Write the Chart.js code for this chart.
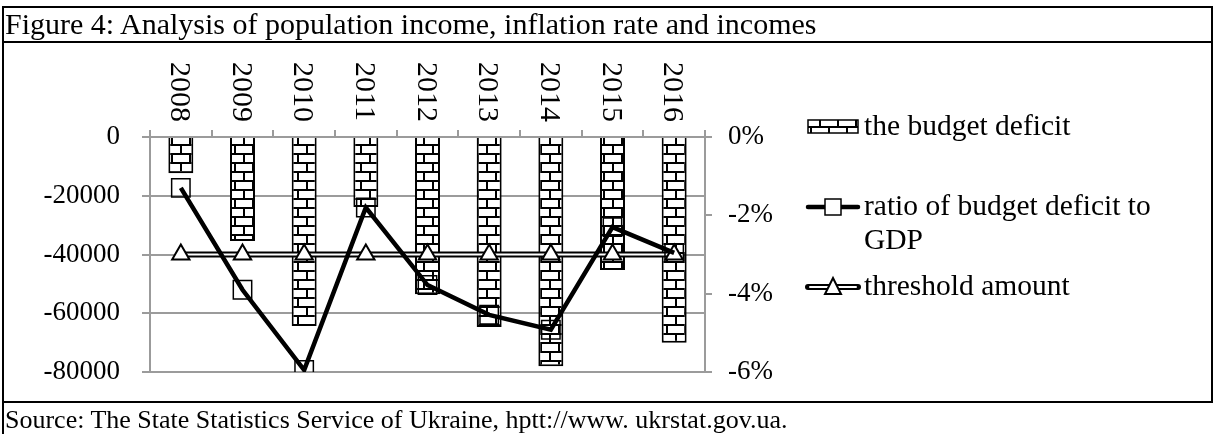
<!DOCTYPE html>
<html>
<head>
<meta charset="utf-8">
<script src="https://cdn.jsdelivr.net/npm/chart.js@4.4.1/dist/chart.umd.min.js"></script>
<style>
    body { margin: 0; background: #fff; }
    #wrap { position: relative; width: 1215px; height: 434px; overflow: hidden; }
    #grafico { position: absolute; left: 0; top: 0; }
    .linea { position: absolute; background: #000; }
    .texto { position: absolute; font-family: "Liberation Serif", "Times New Roman", serif; color: #000; white-space: nowrap; }
</style>
</head>
<body>
<div id="wrap">
    <canvas id="grafico" width="1215" height="434"></canvas>
    <!-- marco de la figura -->
    <div class="linea" style="left:2px;top:6px;width:1211px;height:2px;"></div>
    <div class="linea" style="left:2px;top:41px;width:1211px;height:2px;"></div>
    <div class="linea" style="left:2px;top:401px;width:1211px;height:2px;"></div>
    <div class="linea" style="left:2px;top:6px;width:2px;height:428px;"></div>
    <div class="linea" style="left:1211px;top:6px;width:2px;height:397px;"></div>
    <div class="texto" style="left:5px;top:7px;font-size:30px;line-height:34px;">Figure 4: Analysis of population income, inflation rate and incomes</div>
    <div class="texto" style="left:5px;top:405px;font-size:26px;line-height:29px;">Source: The State Statistics Service of Ukraine, hptt://www. ukrstat.gov.ua.</div>
</div>

<script>
// ===== Datos =====
const anios = ["2008", "2009", "2010", "2011", "2012", "2013", "2014", "2015", "2016"];
const deficit = [-12300, -35400, -64300, -23800, -53500, -64700, -78000, -45300, -70000];
const ratioPIB = [-1.3, -3.9, -5.95, -1.8, -3.78, -4.54, -4.92, -2.3, -2.96];
const umbral = [-3, -3, -3, -3, -3, -3, -3, -3, -3];

const ticksIzq = [0, -20000, -40000, -60000, -80000];
const ticksDer = [0, -2, -4, -6];

const FUENTE = '"Liberation Serif", "Times New Roman", serif';
const GRIS = "#9b9b9b";

// patrón de ladrillos (como el relleno de Excel)
function patronLadrillo() {
    const c = document.createElement("canvas");
    c.width = 18;
    c.height = 18;
    const g = c.getContext("2d");
    g.fillStyle = "#fff";
    g.fillRect(0, 0, 18, 18);
    g.fillStyle = "#000";
    g.fillRect(0, 0, 18, 2);
    g.fillRect(0, 9, 18, 2);
    g.fillRect(0, 0, 2, 9);
    g.fillRect(9, 9, 2, 9);
    return g.createPattern(c, "repeat");
}
const ladrillo = patronLadrillo();

// años girados (leen de arriba hacia abajo)
const pluginAnios = {
    id: "anios",
    afterDraw(chart) {
        const ctx = chart.ctx;
        const x = chart.scales.x;
        ctx.save();
        ctx.fillStyle = "#000";
        ctx.font = "30px " + FUENTE;
        ctx.textAlign = "left";
        ctx.textBaseline = "middle";
        anios.forEach((a, i) => {
            ctx.save();
            ctx.translate(x.getPixelForValue(i) - 2, 62);
            ctx.rotate(Math.PI / 2);
            ctx.fillText(a, 0, 0);
            ctx.restore();
        });
        ctx.restore();
    }
};

// leyenda dibujada a mano
const pluginLeyenda = {
    id: "leyenda",
    afterDraw(chart) {
        const ctx = chart.ctx;
        const x0 = 808, x1 = 858, xc = 833, xt = 864;
        ctx.save();

        // the budget deficit
        ctx.fillStyle = ladrillo;
        ctx.fillRect(x0, 120, x1 - x0, 13);
        ctx.strokeStyle = "#000";
        ctx.lineWidth = 1.5;
        ctx.strokeRect(x0, 120, x1 - x0, 13);

        // ratio
        ctx.lineCap = "round";
        ctx.lineWidth = 4.5;
        ctx.beginPath();
        ctx.moveTo(x0, 207);
        ctx.lineTo(x1, 207);
        ctx.stroke();
        ctx.fillStyle = "#fff";
        ctx.fillRect(xc - 8, 199, 16, 16);
        ctx.lineWidth = 1.5;
        ctx.strokeRect(xc - 8, 199, 16, 16);

        // umbral
        ctx.lineWidth = 6;
        ctx.beginPath();
        ctx.moveTo(x0, 287);
        ctx.lineTo(x1, 287);
        ctx.stroke();
        ctx.strokeStyle = "#fff";
        ctx.lineWidth = 2;
        ctx.beginPath();
        ctx.moveTo(x0 + 2, 287);
        ctx.lineTo(x1 - 2, 287);
        ctx.stroke();
        ctx.strokeStyle = "#000";
        ctx.fillStyle = "#fff";
        ctx.lineWidth = 2;
        ctx.lineCap = "butt";
        ctx.beginPath();
        ctx.moveTo(xc, 278);
        ctx.lineTo(xc + 8, 294);
        ctx.lineTo(xc - 8, 294);
        ctx.closePath();
        ctx.fill();
        ctx.stroke();

        ctx.fillStyle = "#000";
        ctx.font = "29.5px " + FUENTE;
        ctx.textAlign = "left";
        ctx.textBaseline = "middle";
        ctx.fillText("the budget deficit", xt, 127);
        ctx.fillText("ratio of budget deficit to", xt, 207);
        ctx.fillText("GDP", xt, 241);
        ctx.fillText("threshold amount", xt, 287);
        ctx.restore();
    }
};

new Chart(document.getElementById("grafico"), {
    data: {
        labels: anios,
        datasets: [
            {
                type: "bar",
                label: "the budget deficit",
                data: deficit,
                yAxisID: "y",
                backgroundColor: ladrillo,
                borderColor: "#000",
                borderWidth: 2,
                barPercentage: 0.405,
                categoryPercentage: 1,
                order: 3
            },
            {
                type: "line",
                label: "threshold amount",
                data: umbral,
                yAxisID: "y1",
                borderColor: "#000",
                borderWidth: 6,
                pointRadius: 0,
                order: 2
            },
            {
                type: "line",
                label: "threshold amount (interior)",
                data: umbral,
                yAxisID: "y1",
                borderColor: "#fff",
                borderWidth: 2,
                pointStyle: "triangle",
                pointRadius: 10,
                pointBackgroundColor: "#fff",
                pointBorderColor: "#000",
                pointBorderWidth: 2,
                order: 1
            },
            {
                type: "line",
                label: "ratio of budget deficit to GDP",
                data: ratioPIB,
                yAxisID: "y1",
                borderColor: "#000",
                borderWidth: 4.5,
                tension: 0,
                pointStyle: "rect",
                pointRadius: 13,
                pointBackgroundColor: "rgba(0,0,0,0)",
                pointBorderColor: "#000",
                pointBorderWidth: 1.5,
                order: 0
            }
        ]
    },
    options: {
        responsive: false,
        animation: false,
        layout: {
            padding: { left: 0, top: 0, right: 410, bottom: 62 }
        },
        plugins: {
            legend: { display: false },
            title: { display: false },
            tooltip: { enabled: false }
        },
        scales: {
            x: {
                position: "top",
                offset: true,
                grid: {
                    offset: true,
                    drawOnChartArea: false,
                    drawTicks: true,
                    tickLength: 7,
                    color: GRIS,
                    lineWidth: 2
                },
                border: { display: true, color: GRIS, width: 2 },
                ticks: { display: false },
                afterFit(scale) { scale.height = 137; }
            },
            y: {
                position: "left",
                min: -80000,
                max: 0,
                afterBuildTicks(scale) { scale.ticks = ticksIzq.map(v => ({ value: v })); },
                ticks: {
                    color: "#000",
                    font: { family: FUENTE, size: 27 },
                    padding: 22,
                    callback: v => String(v)
                },
                grid: { color: GRIS, lineWidth: 2, tickLength: 8 },
                border: { display: true, color: GRIS, width: 2 },
                afterFit(scale) { scale.width = 150; }
            },
            y1: {
                position: "right",
                min: -6,
                max: 0,
                afterBuildTicks(scale) { scale.ticks = ticksDer.map(v => ({ value: v })); },
                ticks: {
                    color: "#000",
                    font: { family: FUENTE, size: 27 },
                    padding: 16,
                    callback: v => v + "%"
                },
                grid: { drawOnChartArea: false, color: GRIS, lineWidth: 2, tickLength: 7 },
                border: { display: true, color: GRIS, width: 2 },
                afterFit(scale) { scale.width = 100; }
            }
        }
    },
    plugins: [pluginAnios, pluginLeyenda]
});
</script>
</body>
</html>
